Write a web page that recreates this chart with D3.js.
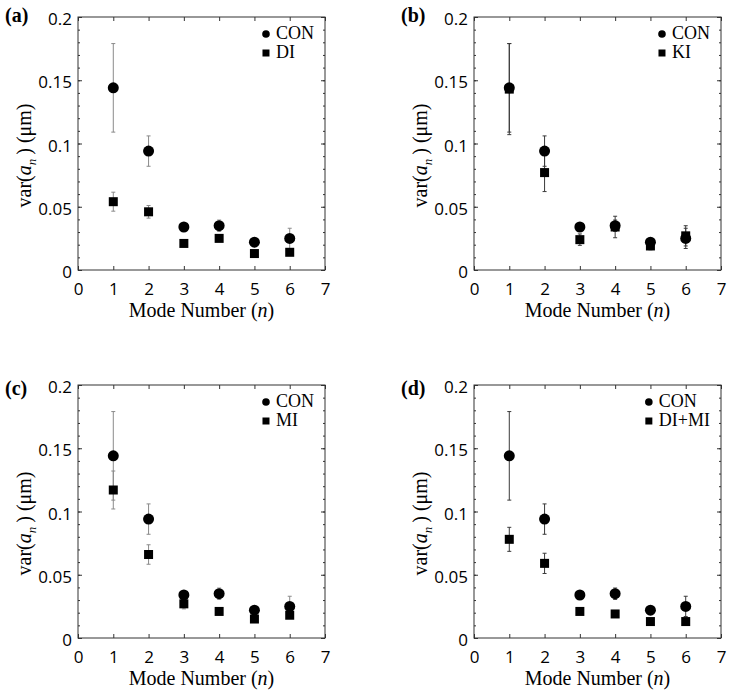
<!DOCTYPE html>
<html>
<head>
<meta charset="utf-8">
<script src="https://cdn.jsdelivr.net/npm/d3@7"></script>
<style>
  body { margin: 0; background: #fff; }
  svg { display: block; }
</style>
</head>
<body>
<script>
// mode numbers on the x axis
const modes = [1, 2, 3, 4, 5, 6];

// control group (same in every panel)
const conMean = [0.144, 0.094, 0.034, 0.035, 0.022, 0.025];
const conErr = [0.035, 0.012, 0.003, 0.0045, 0.003, 0.008];

// treated groups
const diMean = [0.054, 0.046, 0.021, 0.025, 0.013, 0.014];
const diErr = [0.0075, 0.005, 0.002, 0.002, 0.002, 0.002];

const kiMean = [0.143, 0.077, 0.024, 0.034, 0.019, 0.027];
const kiErr = [0.036, 0.015, 0.0045, 0.0085, 0.003, 0.008];

const miMean = [0.117, 0.066, 0.027, 0.021, 0.015, 0.018];
const miErr = [0.015, 0.0077, 0.004, 0.002, 0.002, 0.002];

const dimiMean = [0.078, 0.059, 0.021, 0.019, 0.013, 0.013];
const dimiErr = [0.0095, 0.008, 0.002, 0.002, 0.002, 0.002];

const panelLabels = ['(a)', '(b)', '(c)', '(d)'];
const treatNames = ['DI', 'KI', 'MI', 'DI+MI'];
const xTicks = [0, 1, 2, 3, 4, 5, 6, 7];
const yTicks = [0, 0.05, 0.1, 0.15, 0.2];

const treatMeans = [diMean, kiMean, miMean, dimiMean];
const treatErrs = [diErr, kiErr, miErr, dimiErr];

// layout
const W = 729, H = 694;
const plotW = 247, plotH = 253;
const offsets = [[78, 17], [474, 17], [78, 385], [474, 385]];
const labelDy = [-10, -10, -5, -5];
const barColors = ['#8a8a8a', '#3a3a3a', '#8a8a8a', '#3a3a3a'];
const frameColor = '#333';
const serif = '"Liberation Serif", "Times New Roman", serif';
const sans = '"Open Sans", "DejaVu Sans", sans-serif';

const svg = d3.select('body').append('svg')
  .attr('width', W)
  .attr('height', H);

const x = d3.scaleLinear().domain([0, 7]).range([0, plotW]);
const y = d3.scaleLinear().domain([0, 0.2]).range([plotH, 0]);
const fmt = d => String(+d.toFixed(2));

panelLabels.forEach((lab, i) => {
  const g = svg.append('g')
    .attr('transform', `translate(${offsets[i][0]},${offsets[i][1]})`);

  // minor y ticks, left and right
  const minor = d3.range(0, 0.2001, 0.01);
  g.append('g')
    .call(d3.axisLeft(y).tickValues(minor).tickSize(-2).tickFormat(''))
    .call(a => a.select('.domain').remove());
  g.append('g')
    .attr('transform', `translate(${plotW},0)`)
    .call(d3.axisRight(y).tickValues(minor).tickSize(-2).tickFormat(''))
    .call(a => a.select('.domain').remove());

  // major y ticks
  g.append('g')
    .attr('class', 'yaxis')
    .call(d3.axisLeft(y).tickValues(yTicks).tickSizeInner(-4).tickSizeOuter(0)
      .tickPadding(6).tickFormat(fmt))
    .call(a => a.select('.domain').remove());
  g.append('g')
    .attr('transform', `translate(${plotW},0)`)
    .call(d3.axisRight(y).tickValues(yTicks).tickSize(-4).tickFormat(''))
    .call(a => a.select('.domain').remove());

  // x ticks, bottom and top
  g.append('g')
    .attr('class', 'xaxis')
    .attr('transform', `translate(0,${plotH})`)
    .call(d3.axisBottom(x).tickValues(xTicks).tickSizeInner(-4).tickSizeOuter(0)
      .tickPadding(14).tickFormat(d3.format('d')))
    .call(a => a.select('.domain').remove());
  g.append('g')
    .call(d3.axisTop(x).tickValues(xTicks).tickSize(-4).tickFormat(''))
    .call(a => a.select('.domain').remove());

  g.selectAll('.tick line').attr('stroke', frameColor);
  g.selectAll('.yaxis text, .xaxis text')
    .attr('font-family', sans)
    .attr('font-size', 17)
    .attr('fill', '#000');
  g.selectAll('.xaxis text').attr('dy', '0.66em');
  g.selectAll('.yaxis text').attr('dy', '0.45em');

  // frame
  g.append('rect')
    .attr('width', plotW)
    .attr('height', plotH)
    .attr('fill', 'none')
    .attr('stroke', frameColor)
    .attr('stroke-width', 1);

  // error bars
  const series = [
    { mean: conMean, err: conErr },
    { mean: treatMeans[i], err: treatErrs[i] }
  ];
  series.forEach(s => {
    const bars = g.append('g')
      .attr('stroke', barColors[i])
      .attr('stroke-width', 1);
    modes.forEach((m, j) => {
      const lo = s.mean[j] - s.err[j], hi = s.mean[j] + s.err[j];
      bars.append('line')
        .attr('x1', x(m)).attr('x2', x(m))
        .attr('y1', y(lo)).attr('y2', y(hi));
      [lo, hi].forEach(v => {
        bars.append('line')
          .attr('x1', x(m) - 2).attr('x2', x(m) + 2)
          .attr('y1', y(v)).attr('y2', y(v));
      });
    });
  });

  // markers
  g.append('g').selectAll('circle')
    .data(modes)
    .join('circle')
      .attr('cx', d => x(d))
      .attr('cy', (d, j) => y(conMean[j]))
      .attr('r', 5.5)
      .attr('fill', '#000');
  g.append('g').selectAll('rect')
    .data(modes)
    .join('rect')
      .attr('x', d => x(d) - 4.5)
      .attr('y', (d, j) => y(treatMeans[i][j]) - 4.5)
      .attr('width', 9)
      .attr('height', 9)
      .attr('fill', '#000');

  // legend, right aligned inside the box
  const leg = g.append('g');
  const names = ['CON', treatNames[i]];
  const texts = names.map((n, k) => leg.append('text')
    .attr('y', 22 + k * 19)
    .attr('font-family', serif)
    .attr('font-size', 18)
    .text(n));
  const maxW = d3.max(texts, t => t.node().getComputedTextLength());
  const tx = plotW - 11 - maxW;
  texts.forEach(t => t.attr('x', tx));
  leg.append('circle')
    .attr('cx', tx - 10).attr('cy', 17).attr('r', 3.8).attr('fill', '#000');
  leg.append('rect')
    .attr('x', tx - 13.5).attr('y', 32.5).attr('width', 7).attr('height', 7)
    .attr('fill', '#000');

  // axis titles
  const xl = g.append('text')
    .attr('x', plotW / 2)
    .attr('y', plotH + 47)
    .attr('text-anchor', 'middle')
    .attr('font-family', serif)
    .attr('font-size', 20);
  xl.append('tspan').text('Mode Number (');
  xl.append('tspan').attr('font-style', 'italic').text('n');
  xl.append('tspan').text(')');

  const yl = g.append('text')
    .attr('transform', `translate(-47,${plotH / 2 + 12}) rotate(-90)`)
    .attr('text-anchor', 'middle')
    .attr('font-family', serif)
    .attr('font-size', 20);
  yl.append('tspan').text('var(');
  yl.append('tspan').attr('font-style', 'italic').text('a');
  yl.append('tspan').attr('font-style', 'italic').attr('font-size', 13)
    .attr('dy', 5).text('n');
  yl.append('tspan').attr('dy', -5).text('\u2009) (\u03bcm)');

  // panel label
  g.append('text')
    .attr('x', -73)
    .attr('y', labelDy[i] + 15)
    .attr('font-family', serif)
    .attr('font-weight', 'bold')
    .attr('font-size', 20)
    .text(lab);
});
</script>
</body>
</html>
